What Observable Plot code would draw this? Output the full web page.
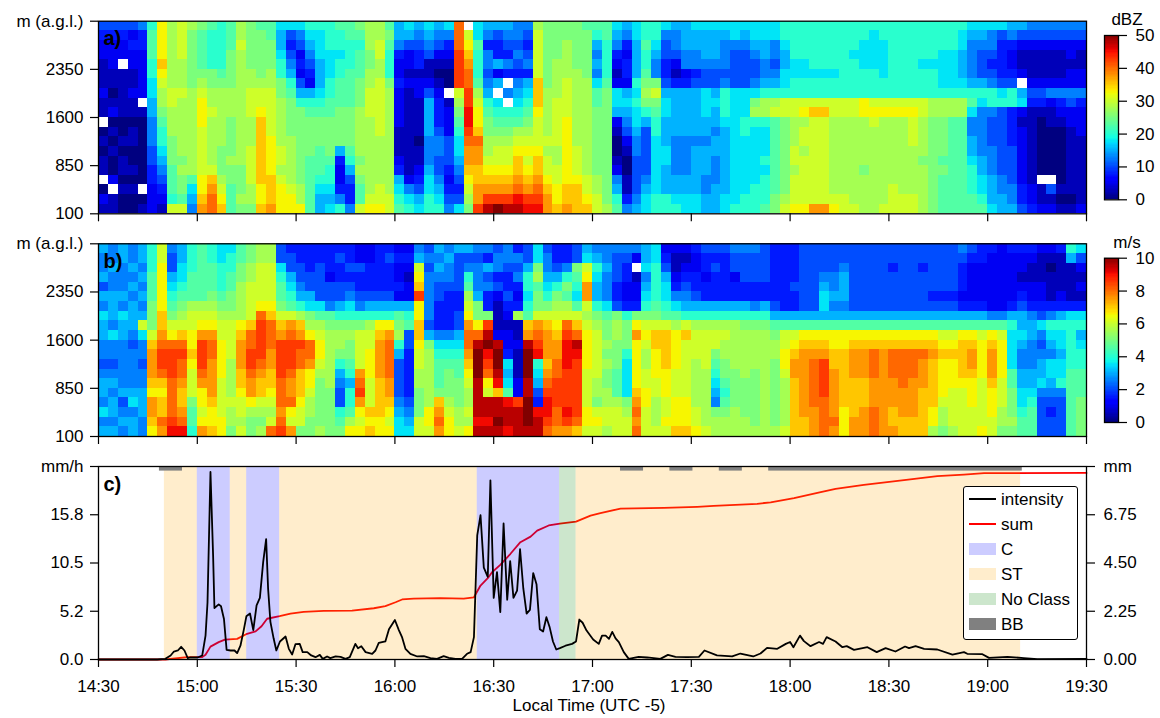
<!DOCTYPE html>
<html><head><meta charset="utf-8">
<script src="https://cdn.jsdelivr.net/npm/d3@7"></script>
<script src="https://cdn.jsdelivr.net/npm/@observablehq/plot@0.6"></script>
<style>
html,body{margin:0;padding:0;background:#fff}
#root{position:relative;width:1160px;height:718px;font-family:"Liberation Sans",Arial,sans-serif;font-size:17px;color:#000;overflow:hidden}
#root svg{position:absolute;overflow:visible;background:transparent}
.t{position:absolute;white-space:nowrap;line-height:1}
#legend{position:absolute;left:963px;top:486px;width:113px;height:152px;border:1px solid #000;border-radius:3px;background:#fff;box-sizing:content-box}
#legend .k{position:absolute;left:5px;width:27px}
#legend .l{position:absolute;left:37px;line-height:1;white-space:nowrap}
</style></head><body><div id="root"></div>
<script>
// Level codes: one character per cell, level index 0..20 of each colour bar; "." = no data.
// Each string is one 3-minute column, top to bottom, 20 gates of 150 m.
const reflectivityColumns = [
"43221 11211 .0101 1.021","43222 11012 01010 02.11","4322. 11111 00101 10100","42322 11211 01100 10100","53322 222.1 00000 00.01",
"89998 87766 55544 33222","dddde dcbba 98876 54321","bbbbb bbccb bbaaa 9998c","ccccb bbcbb bbbba baa9c","baaaa aabbb bbbbb b9765",
"a9999 abcdd dcccc cddef","98888 aabbc bbbbb cefgg","88888 9abbb bbbaa abcde","999aa aabbb aaaab aa999","bbcbb bbbbb bbbbb aaaba",
"aaaaa bbccc bbbcc ccbba","9aaaa abccd eeeee eedde","99aaa bbccc ccddd deeef","76678 8aabb bbbcc bcddd","74345 689aa aabbb bbcdd",
"75423 2468a aaaaa aabbd","87654 32689 aaaa9 99999","87776 66789 aaa99 98766","88877 78899 aaaa9 88767","98878 8999a aaa63 22358",
"99888 9999a aaa98 64335","a9899 9aaab bbbba ba99c","bbbaa bbccc bbbbb bbbcd","bbccb bcccc ccbbb bbccd","9a988 8abbb bbbbb bbbcc",
"66532 23222 21112 36789","76422 12111 11111 12578","65433 12211 11011 23467","76541 12466 66555 67788","65421 01233 34554 45678",
"75321 00.12 22444 32345","ggghh hhcba 98776 54347",".cdef gghhi ihgff edcba","77988 89bcd degff eeffh","65355 45689 aabbc defhj",
"64336 26.78 9abcc defhk","65435 3.5.8 9abcc defhj","55454 35678 9bcde efgij","54345 36789 abcdc defhi","bcccc ceeed cccde efghi",
"aaaaa aabbb bbcbc cdeff","aaaab bbbcc cccbb ccdde","aabbb bcccc ddddd ddeef","aaaaa bbbbb bbbcc cdeee","9aaaa abbbb bbbbb bccde",
"98656 5799a aaaaa abbcc","99888 89aaa aaaaa aaaab","76532 12776 21001 25689","65323 32676 54210 01135","77666 68787 76554 44456",
"88988 9aba8 64444 45677","88765 5aca9 88777 77788","75443 34677 66677 66688","65542 13666 66555 56678","66655 23666 66555 56677",
"76655 34666 66566 66677","76665 44777 66566 65566","76665 44676 65665 55666","76555 45888 76666 66677","77544 44777 77777 77778",
"76544 44777 88777 77788","77654 457ab 87777 77888","77665 568bb 87778 78889","77554 568bc 99999 999aa","88766 778cc aaaaa aaabc",
"88887 788cc bbbcc bcccd","88887 788cd bccbc ccccd","88888 788ce ccccc ccccf","88888 788ce ccccc ccccf","88888 788cc bbbbb bbbcd",
"88888 888cc bbbbb bbbcc","88878 888cc bbbbb bbbbc","88777 888dd bbbbb abbbb","87777 888cd cbbbb bbbbb","88777 788cd bbbbb bbbbc",
"88888 888cd bbbbb bbccc","88888 888cd bbbbb bbbcc","88888 888cd cccbb bbbcc","88887 888cc bbbba bbbbb","88887 888bb aaaaa aaaaa",
"88877 778bb aaaa9 a9999","88877 778bb 99999 99999","87766 678bb 99999 99999","76555 56897 55667 88899","76544 46875 55556 67789",
"75543 45885 44455 56667","74333 34784 44444 45566","65322 34883 33344 44556","64211 2.672 12222 22334","54211 12431 11111 11223",
"54211 12431 00000 0.112","54211 12521 10000 0.412","54211 12532 10000 00101","54221 22542 21111 11101","54211 22532 22111 11112"
];
const velocityColumns = [
"65564 65766 55456 65756","55655 66657 55456 56656","66555 65766 55555 64565","55656 56665 45555 67566","66565 656c7 55455 66655",
"88899 9aaac efffe dffed","ccddd ddeef ghhge deegf","54467 89acd ghhhg ggghi","66778 9abce ghggf eefgi","88899 9bccd dedcc ca998",
"99999 9bcdf hhhgf ddcdf","88999 abcdf ggfff fedde","77888 9abcc ddddc cccdd","78899 aabcc ccbbb bcbba","99aab bbbde fffee dccbc",
"aabbc ccceg ghhgf fdbaa","bbccc cdghh hhgfe ecbab","bbccc cdegg gffee dcbcg","44789 9acef hhhhg ggfgh","34467 89cfg hhhgf fgdcf",
"33445 68bef hggee edcca","33344 67abd ggfdd cbbaa","33444 479bc ddcba aaaab","33324 459ab bbbbb aaaaa","34334 468ab ba865 4489a",
"33434 578ab aa986 889bd","22433 458ac cccfg hfdcd","22333 468bc cdddc ccede","33333 468de ffffe eeedd","34333 468df ggggf fedcd",
"23223 269ab 86444 45677","23212 26894 43333 34567","56cde hddee dccbb aaacc","45455 55546 abbbb bbddc","65654 43335 78999 aefgf",
"56554 33335 789aa abcdd","64444 33446 7899a aabbc","64589 bcdfg gfedc bbcbd","54555 6aadg jkkkj jjjij","53645 33ahj kihgd cjjij",
"45534 21112 jkkji ejjkj","55433 43212 23767 9ijji","35453 23b11 21112 2hjjj","44688 789ef jkkkj jkkkj","77ab9 aacfg hi876 43ijj",
"45567 8acef ffefg hiihg","33468 abcde ffggh hhggf","3358a 9bcgh iiihh hhihf","44a98 79ceg jihhh hhhge","67cdf fcbcd dddcc ccddc",
"56876 68abc ccccb bacdc","55655 579aa babaa bbccb","54443 34abb aaa99 9bccc","54332 238aa a8777 7abcc","52.12 23adf ddddd efgfg",
"66756 78acd cbbcc ddccc","77888 89ace edddc cbbbc","23467 789ce eeedd dccdc","21123 579bd dddcc cddde","21234 568ce ccccc cddde",
"32233 468bc ccbbb bbccd","43323 368bc cccbb bbbbc","43433 368bc ca987 65abb","43333 368bc bbaa9 89abb","54423 368bb bbbaa aabbb",
"54443 368ab bbbba aaabb","54443 358ab bbbaa aaaab","44443 368ab bbbbb bbbbb","33333 3469a bbaaa aaaab","33333 3369c cddcb bbbbc",
"33334 3369c deffe eeeee","44444 4469d effff fffee","44444 4469d efggg ggfff","44456 7769d efhhh hgggg","44455 6569d deeff fffgf",
"44566 6569d deeee eeddd","44444 4469d efffe eeeff","44444 4469d efffe eefff","44444 4469d egggf ffggg","44444 4469d effff fffff",
"44344 4469d egggf ffeef","44444 4469d egggg fffee","44444 4469d egggf fffee","44344 4469d egfff eeeee","44444 3469d efeee eeddb",
"44444 3469c deddd dcbba","44444 3469c deddd ccccb","54333 2369d eeeed ccccc","43222 2369d effed ddccc","33222 2369c ddddc ccccd",
"32222 2259d efffe dddcc","22222 2259c ddddc ccbba","32222 23687 77799 aaaba","32212 34667 65566 77899","32112 23566 55566 78999",
"21112 23475 45667 54444","21011 13587 65776 54344","31111 23687 76778 54444","86111 13788 88899 99999","74212 13786 78899 9aaaa"
];
const levelCodes = "0123456789abcdefghijk";

// Panel c. Times are minutes after 14:30.
const intensityT = [0,17.8,20.3,21.9,22.9,24.1,25.1,26.1,27.1,27.9,30.1,31.5,32.5,33.1,34,34.8,35.2,36.5,37.2,38.1,38.9,40.1,41.3,42.1,43.1,44.1,44.9,46,47,48,49,50,50.9,51.5,52.2,53.2,54,55.1,56.8,57.8,58.8,59.8,61.1,62,63.4,64.6,65.9,67.2,68.1,69.4,70.4,72,73.5,75,76.3,78,78.8,79.8,81.1,83.1,84.1,85.1,87.1,88.2,90,91.2,92.2,93.2,94.7,96.8,98.8,100.8,102.8,104.8,106.4,108.4,110.4,111.9,113,114,115,116,117,118.2,119,120,121,122,123,124.1,125,126,127.1,128,129,130,131,132,133,134,135,136,137,138,139,140.1,141.8,143.8,145,146,147,148.2,150.2,151.9,152.9,154,155,156,157,158,159.5,161,164,166.6,170.6,172.9,175.2,178.7,182.3,184,187.8,192.4,194.9,198.8,201,203,206.1,208.7,210,211,213,214.2,216.2,218.8,220,221.1,223.8,225.9,227.2,229.4,233.5,236.3,239,242,244.9,246.1,248.1,250.7,254.7,259.3,262.8,263.8,268.4,270.4,276,281,285.1,300];
const intensityV = [0,0,.07,.44,.87,.98,1.38,.98,.15,.22,.22,.44,2.6,6.2,20.4,11.3,5.6,6,5.8,4.4,1.05,.98,.98,.69,1.5,3.2,4.7,5,3.2,5.9,6.7,10.6,13.1,7.7,4.1,2.25,.98,1.96,2.5,1.16,.54,1.67,1.7,.8,.8,.44,.25,.5,.07,.33,.15,.33,.29,.07,.25,1.7,1.23,1.45,.8,.62,.98,1.8,1.96,3.3,4.3,3.2,2.4,1.16,.62,.33,.36,.15,.07,.36,.18,.07,.07,.62,.8,2.43,13.5,15.7,10,9,19.5,6.7,9.5,5.15,14.8,6.5,10.7,6.7,7.5,12,7.7,5,5.4,9.4,8.2,3.3,3.05,4.6,3.5,1.96,1.09,1.23,1.5,1.7,1.96,4.35,4,3.15,2.18,1.7,2.6,2.6,2.25,3,2.3,1.9,.8,.07,.29,.22,.07,.5,.29,.25,.29,.98,.44,.33,.65,.33,.65,1.27,1.16,1.7,1.9,1.34,2.6,2,1.45,1.9,1.7,2.43,1.96,1.34,1.45,1.05,1.34,.8,1.23,.87,1.41,1.23,1.45,1.16,1.09,.54,.8,.62,.58,.18,.29,.15,.04,.07];
const sumT = [0,20.3,26.9,31.5,32.5,34,36.5,38.4,42.1,45.1,47.7,49.5,51.2,55,58.3,62.3,68.4,77,83.6,87.1,90.2,92.2,95.7,103.8,110.9,114,116,118.2,119.5,122,125.1,128.1,131.2,133.2,136.7,140.1,145,149.4,152.4,158.5,171.7,181.8,186.8,200,204.1,211.2,219.3,223.8,232.4,244.6,254.7,262.8,268.9,300];
const sumV = [0,0,.11,.11,.22,.6,.81,.93,.96,1.2,1.31,1.55,1.9,2.02,2.14,2.22,2.27,2.28,2.39,2.49,2.67,2.8,2.84,2.86,2.84,2.9,3.45,3.79,4.07,4.41,4.93,5.47,5.73,6.01,6.25,6.34,6.43,6.71,6.82,7.04,7.07,7.12,7.16,7.26,7.33,7.52,7.8,7.96,8.14,8.36,8.55,8.62,8.69,8.7];
const stStart = [20,40,55,145], stEnd = [30,45,115,280];
const cStart = [30,45,115], cEnd = [40,55,140];
const noClassStart = [140], noClassEnd = [145];
const bbStart = [18.5,158.5,173.5,188.5,203.5], bbEnd = [25.5,165.5,180.5,195.5,280.5];

const timeTicks = [0,30,60,90,120,150,180,210,240,270,300];
const timeLabels = ["14:30","15:00","15:30","16:00","16:30","17:00","17:30","18:00","18:30","19:00","19:30"];
const heightTicks = [100,850,1600,2350,3100];
const heightLabels = ["100","850","1600","2350","m (a.g.l.)"];
const rateTicks = [0,5.25,10.5,15.75,21];
const rateLabels = ["0.0","5.2","10.5","15.8","mm/h"];
const amountMax = 9;
const amountTicks = [0,2.25,4.5,6.75,9];
const amountLabels = ["0.00","2.25","4.50","6.75","mm"];
const dbzTicks = [0,10,20,30,40,50];
const msTicks = [0,2,4,6,8,10];

// Matplotlib "jet"
const jetR=[[0,0],[.35,0],[.66,1],[.89,1],[1,.5]], jetG=[[0,0],[.125,0],[.375,1],[.64,1],[.91,0],[1,0]], jetB=[[0,.5],[.11,1],[.34,1],[.65,0],[1,0]];
const seg=(s,t)=>{for(let i=1;i<s.length;i++) if(t<=s[i][0]){const [a,b]=s[i-1],[c,d]=s[i];return b+(d-b)*(t-a)/(c-a);} return s[s.length-1][1];};
const jet=t=>{t=Math.max(0,Math.min(1,t));return `rgb(${Math.round(255*seg(jetR,t))},${Math.round(255*seg(jetG,t))},${Math.round(255*seg(jetB,t))})`;};

const root=document.getElementById("root");
const font={fontFamily:'"Liberation Sans",Arial,sans-serif',fontSize:"17px",color:"#000",background:"transparent",overflow:"visible"};
const place=(el,left,top)=>{el.style.position="absolute";el.style.left=left+"px";el.style.top=top+"px";root.appendChild(el);return el;};
const text=(s,cx,top)=>{const d=document.createElement("div");d.className="t";d.textContent=s;d.style.left=cx+"px";d.style.top=top+"px";d.style.transform="translateX(-50%)";root.appendChild(d);};

function cells(cols,unit){
  const out=[];
  cols.forEach((col,i)=>{
    [...col.replace(/ /g,"")].forEach((ch,j)=>{
      if(ch===".")return;
      out.push({x1:i*3,x2:(i+1)*3,y1:3100-(j+1)*150,y2:3100-j*150,v:levelCodes.indexOf(ch)*unit});
    });
  });
  return out;
}
const panelLabel=s=>Plot.text([s],{frameAnchor:"top-left",dx:5,dy:10,text:d=>d,fontWeight:"bold",fontSize:20,fill:"#000",textAnchor:"start",lineAnchor:"top"});
const lookup=(ticks,labels)=>v=>labels[ticks.indexOf(v)];

function heat(cols,unit,max,label,height,marginTop,marginBottom){
  return Plot.plot({
    width:1095,height,marginLeft:98,marginRight:9,marginTop,marginBottom,style:font,
    x:{domain:[0,300]},y:{domain:[100,3100]},
    color:{type:"linear",domain:[0,max],interpolate:jet},
    marks:[
      Plot.rect(cells(cols,unit),{x1:"x1",x2:"x2",y1:"y1",y2:"y2",fill:"v",shapeRendering:"crispEdges"}),
      Plot.frame({stroke:"#000",strokeWidth:1.3}),
      Plot.axisX({ticks:timeTicks,tickSize:8,tickFormat:()=>"",label:null,strokeWidth:1.2}),
      Plot.axisY({ticks:heightTicks,tickSize:8,tickPadding:7,tickFormat:lookup(heightTicks,heightLabels),label:null,strokeWidth:1.2,fontSize:17}),
      panelLabel(label)
    ]
  });
}
function colorbar(max,ticks,height,marginTop,marginBottom){
  const rows=d3.range(0,max,max/128).map(v=>({v,w:v+max/128}));
  return Plot.plot({
    width:65,height,marginLeft:9,marginRight:42,marginTop,marginBottom,style:font,
    x:{domain:[0,1],axis:null},y:{domain:[0,max]},
    color:{type:"linear",domain:[0,max],interpolate:jet},
    marks:[
      Plot.rect(rows,{x1:0,x2:1,y1:"v",y2:"w",fill:"v",shapeRendering:"crispEdges"}),
      Plot.frame({stroke:"#000",strokeWidth:1.3}),
      Plot.axisY({anchor:"right",ticks,tickSize:8,tickPadding:9,tickFormat:d=>String(d),label:null,strokeWidth:1.2,fontSize:17})
    ]
  });
}
place(heat(reflectivityColumns,2.5,50,"a)",225,20.7,11.7),0,0);
place(heat(velocityColumns,.5,10,"b)",225,18.3,14),0,225);
place(colorbar(50,dbzTicks,225,35,25.7),1095,0);
place(colorbar(10,msTicks,225,32.7,28),1095,225);
text("dBZ",1127,11);text("m/s",1127,234);
text("Local Time (UTC -5)",589,697);

const spans=(a,b)=>a.map((s,i)=>({s,e:b[i]}));
const intensity=intensityT.map((t,i)=>({t,v:intensityV[i]}));
const sum=sumT.map((t,i)=>({t,v:sumV[i]}));
const toRate=v=>v*21/amountMax;
const bandTop=20.5;
const panelC=Plot.plot({
  width:1160,height:268,marginLeft:98,marginRight:74,marginTop:16,marginBottom:59,style:font,
  x:{domain:[0,300]},y:{domain:[0,21]},
  marks:[
    Plot.line(sum,{x:"t",y:d=>toRate(d.v),stroke:"#ff0000",strokeWidth:1.8}),
    Plot.rect(spans(stStart,stEnd),{x1:"s",x2:"e",y1:0,y2:21,fill:"#ffa500",fillOpacity:.2}),
    Plot.rect(spans(cStart,cEnd),{x1:"s",x2:"e",y1:0,y2:21,fill:"#0000ff",fillOpacity:.2}),
    Plot.rect(spans(noClassStart,noClassEnd),{x1:"s",x2:"e",y1:0,y2:21,fill:"#008000",fillOpacity:.2}),
    Plot.rect(spans(bbStart,bbEnd),{x1:"s",x2:"e",y1:bandTop,y2:21,fill:"#808080"}),
    Plot.line(intensity,{x:"t",y:"v",stroke:"#000",strokeWidth:1.8}),
    Plot.frame({stroke:"#000",strokeWidth:1.3}),
    Plot.axisX({ticks:timeTicks,tickSize:8,tickPadding:12,tickFormat:lookup(timeTicks,timeLabels),label:null,strokeWidth:1.2,fontSize:17}),
    Plot.axisY({ticks:rateTicks,tickSize:8,tickPadding:7,tickFormat:lookup(rateTicks,rateLabels),label:null,strokeWidth:1.2,fontSize:17}),
    Plot.axisY({anchor:"right",ticks:amountTicks.map(toRate),tickSize:8,tickPadding:9,tickFormat:v=>amountLabels[amountTicks.map(toRate).indexOf(v)],label:null,strokeWidth:1.2,fontSize:17}),
    panelLabel("c)")
  ]
});
place(panelC,0,450);

// Legend
const legendEntries=[["intensity","line","#000"],["sum","line","#f00"],["C","box","rgba(0,0,255,.2)"],["ST","box","rgba(255,165,0,.2)"],["No Class","box","rgba(0,128,0,.2)"],["BB","box","#808080"]];
const lg=document.createElement("div");lg.id="legend";root.appendChild(lg);
legendEntries.forEach(([name,kind,color],i)=>{
  const cy=Math.round(11.5+i*25.1);
  const k=document.createElement("div");k.className="k";
  if(kind==="line"){k.style.top=(cy-1)+"px";k.style.height="2px";k.style.background=color;}
  else{k.style.top=(cy-6)+"px";k.style.height="12px";k.style.background=color;}
  lg.appendChild(k);
  const l=document.createElement("div");l.className="l";l.textContent=name;l.style.top=(cy-8.5)+"px";lg.appendChild(l);
});
</script></body></html>
